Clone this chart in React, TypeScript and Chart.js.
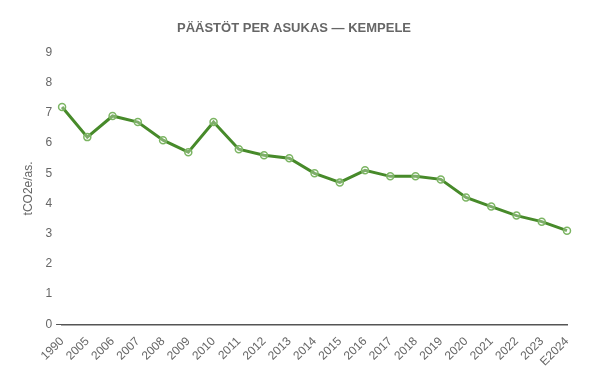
import React, { useEffect, useRef } from "react";
import { Chart, registerables } from "chart.js";

Chart.register(...registerables);

const years = ["1990","2005","2006","2007","2008","2009","2010","2011","2012","2013","2014","2015","2016","2017","2018","2019","2020","2021","2022","2023","E2024"];
const values = [7.2,6.2,6.9,6.7,6.1,5.7,6.7,5.8,5.6,5.5,5.0,4.7,5.1,4.9,4.9,4.8,4.2,3.9,3.6,3.4,3.1];
const titleText = "PÄÄSTÖT PER ASUKAS — KEMPELE";
const yTitle = "tCO2e/as.";

export default function App() {
  const ref = useRef<HTMLCanvasElement>(null);
  useEffect(() => {
    document.body.style.margin = "0";
    const chart = new Chart(ref.current!, {
      type: "line",
      data: {
        labels: years,
        datasets: [{
          data: values,
          borderColor: "#478a2a",
          borderWidth: 3,
          pointRadius: 3.5,
          pointBorderWidth: 1.5,
          pointBorderColor: "#7cb563",
          pointBackgroundColor: "rgba(255,255,255,0.3)",
          tension: 0,
        }],
      },
      options: {
        animation: false,
        responsive: false,
        maintainAspectRatio: false,
        layout: { padding: { left: 21, right: 32, top: 8, bottom: 10 } },
        plugins: {
          legend: { display: false },
          tooltip: { enabled: false },
          title: {
            display: true,
            text: titleText,
            color: "#666",
            font: { family: "Liberation Sans, Arial, sans-serif", size: 13, weight: "bold" },
            padding: { top: 13, bottom: 16 },
          },
        },
        scales: {
          x: {
            grid: { display: false },
            border: { display: true, color: "#555", width: 1.5 },
            ticks: {
              color: "#666",
              maxRotation: 45,
              minRotation: 45,
              font: { family: "Liberation Sans, Arial, sans-serif", size: 12 },
              padding: 2,
            },
          },
          y: {
            min: 0,
            max: 9,
            ticks: {
              stepSize: 1,
              color: "#666",
              font: { family: "Liberation Sans, Arial, sans-serif", size: 12 },
              padding: 4,
            },
            border: { display: false },
            grid: {
              drawOnChartArea: false,
              drawTicks: true,
              tickLength: 6,
              color: (ctx: any) => (ctx.tick && ctx.tick.value === 0 ? "#555" : "rgba(0,0,0,0)"),
            },
            title: {
              display: true,
              text: yTitle,
              color: "#666",
              font: { family: "Liberation Sans, Arial, sans-serif", size: 12 },
              padding: { top: 0, bottom: 6 },
            },
          },
        },
      },
    });
    return () => chart.destroy();
  }, []);
  return <canvas ref={ref} width={599} height={381} style={{ display: "block" }} />;
}
